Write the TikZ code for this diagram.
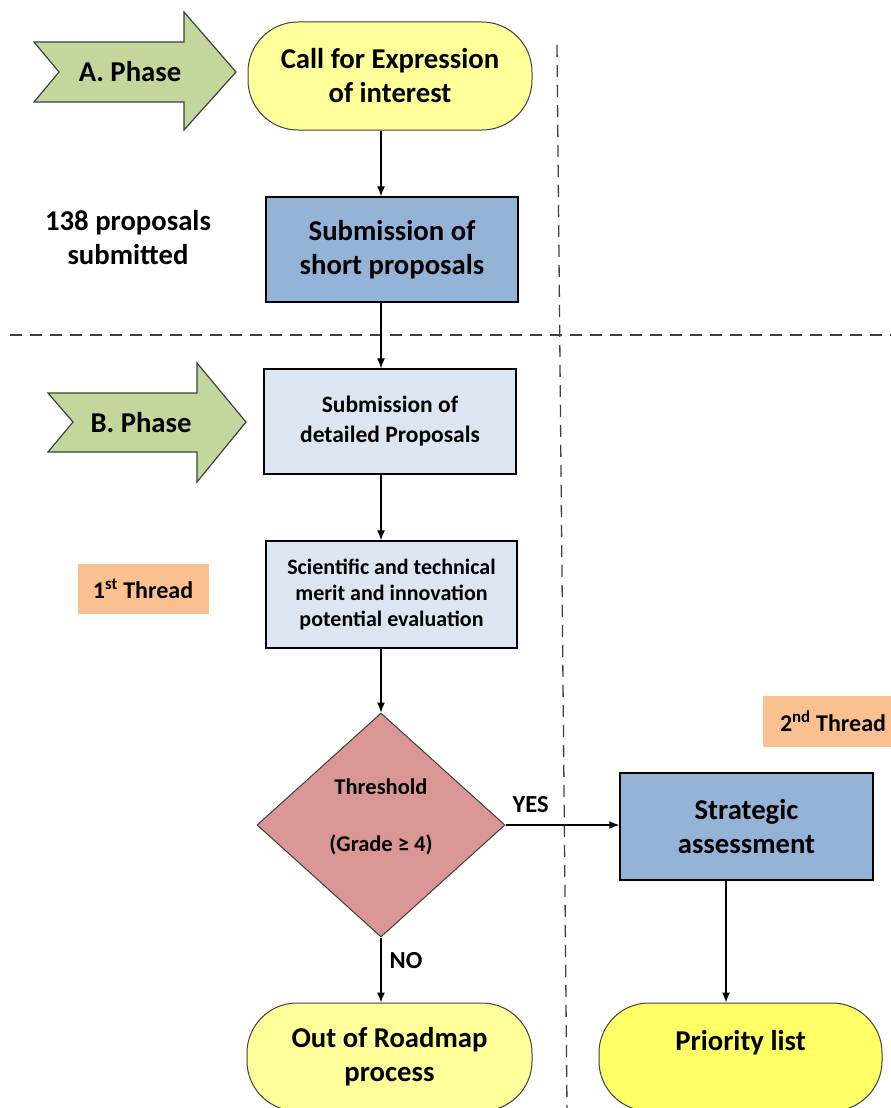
\documentclass[tikz,border=0pt]{standalone}
\usepackage{fontspec}
\setmainfont{Carlito}
\usetikzlibrary{shapes.geometric,arrows.meta}
\definecolor{yelA}{HTML}{FFFF99}
\definecolor{yelB}{HTML}{FFFF66}
\definecolor{blueA}{HTML}{95B3D7}
\definecolor{blueB}{HTML}{DCE6F2}
\definecolor{pinkA}{HTML}{D99694}
\definecolor{orangeA}{HTML}{FAC090}
\definecolor{greenA}{HTML}{C3D69B}
\definecolor{edgeA}{HTML}{404040}
\begin{document}
\begin{tikzpicture}[x=1pt,y=-1pt,
  bigfont/.style={font=\fontsize{28.7}{34}\selectfont\bfseries},
  midfont/.style={font=\fontsize{23.5}{30}\selectfont\bfseries},
  smallfont/.style={font=\fontsize{22}{26}\selectfont\bfseries},
  term/.style={draw=edgeA, line width=1pt, rounded corners=50pt, align=center, inner sep=0pt, bigfont},
  procbox/.style={draw=black, line width=1.4pt, align=center, inner sep=0pt},
  phasearrow/.style={draw=edgeA, line width=1.2pt, fill=greenA, line join=miter},
  threadbox/.style={fill=orangeA, inner sep=0pt, font=\fontsize{24}{28}\selectfont\bfseries},
  sepline/.style={draw=edgeA, line width=1.3pt, dash pattern=on 12pt off 8pt},
  flow/.style={draw=black, line width=1.3pt, -{Latex[length=10pt,width=8pt]}},
  lbl/.style={inner sep=0pt, font=\fontsize{24.5}{28}\selectfont\bfseries}
]
\useasboundingbox (0,0) rectangle (891,1108);

% separator lines
\coordinate (hL) at (10,335);
\coordinate (hR) at (891,335);
\coordinate (vT) at (557,45);
\coordinate (vB) at (567,1108);
\draw[sepline] (hL) -- (hR);
\draw[sepline] (vT) -- (vB);

% phase arrows
\draw[phasearrow] (34,42) -- (184,42) -- (184,12) -- (236,72) -- (184,130) -- (184,102) -- (34,102) -- (59,72) -- cycle;
\node[bigfont, inner sep=0pt] (pa) at (130,72) {A. Phase};
\draw[phasearrow] (48,393) -- (197,393) -- (197,363) -- (246,422) -- (197,482) -- (197,452) -- (48,452) -- (73,422) -- cycle;
\node[bigfont, inner sep=0pt] (pb) at (141,423) {B. Phase};

% nodes
\node[term, fill=yelA, minimum width=284pt, minimum height=108pt] (start) at (390,76) {Call for Expression\\of interest};
\node[bigfont, align=center, inner sep=0pt] (count) at (128,238) {138 proposals\\submitted};
\node[procbox, fill=blueA, bigfont, minimum width=252pt, minimum height=105pt] (short) at (392,249.5) {Submission of\\short proposals};
\node[procbox, fill=blueB, midfont, minimum width=252pt, minimum height=105pt] (detail) at (390,421.5) {Submission of\\detailed Proposals};
\node[procbox, fill=blueB, smallfont, minimum width=251pt, minimum height=107pt] (sci) at (391.5,594.5) {Scientific and technical\\merit and innovation\\potential evaluation};
\node[threadbox, minimum width=131pt, minimum height=50pt] (t1) at (143,589) {1\textsuperscript{st} Thread};
\node[threadbox, minimum width=140pt, minimum height=51pt] (t2) at (833,721) {2\textsuperscript{nd} Thread};
\node[diamond, draw=edgeA, line width=1pt, fill=pinkA, minimum width=248pt, minimum height=224pt, inner sep=0pt] (th) at (381,825) {};
\node[smallfont, font=\fontsize{22.5}{26}\selectfont\bfseries, inner sep=0pt] (thA) at (381,787) {Threshold};
\node[smallfont, font=\fontsize{22.5}{26}\selectfont\bfseries, inner sep=0pt] (thB) at (381,845) {(Grade ≥ 4)};
\node[procbox, fill=blueA, bigfont, minimum width=253pt, minimum height=107pt] (strat) at (746.5,826.5) {Strategic\\assessment};
\node[term, fill=yelA, minimum width=285pt, minimum height=108pt] (out) at (389.5,1057) {Out of Roadmap\\process};
\node[term, fill=yelB, minimum width=283pt, minimum height=108pt] (prio) at (740.5,1057) {Priority list\\\mbox{}};

% connectors
\draw[flow] (start.south -| th.north) -- (short.north -| th.north);
\draw[flow] (short.south -| th.north) -- (detail.north -| th.north);
\draw[flow] (detail.south -| th.north) -- (sci.north -| th.north);
\draw[flow] (sci.south -| th.north) -- (th.north);
\draw[flow] (th.east) -- node[lbl, pos=0.22, yshift=20pt] (yes) {YES} (th.east -| strat.west);
\draw[flow] (th.south) -- node[lbl, pos=0.35, xshift=25pt] (no) {NO} (out.north -| th.south);
\coordinate (sx) at (726,0);
\draw[flow] (strat.south -| sx) -- (prio.north -| sx);
\end{tikzpicture}
\end{document}
